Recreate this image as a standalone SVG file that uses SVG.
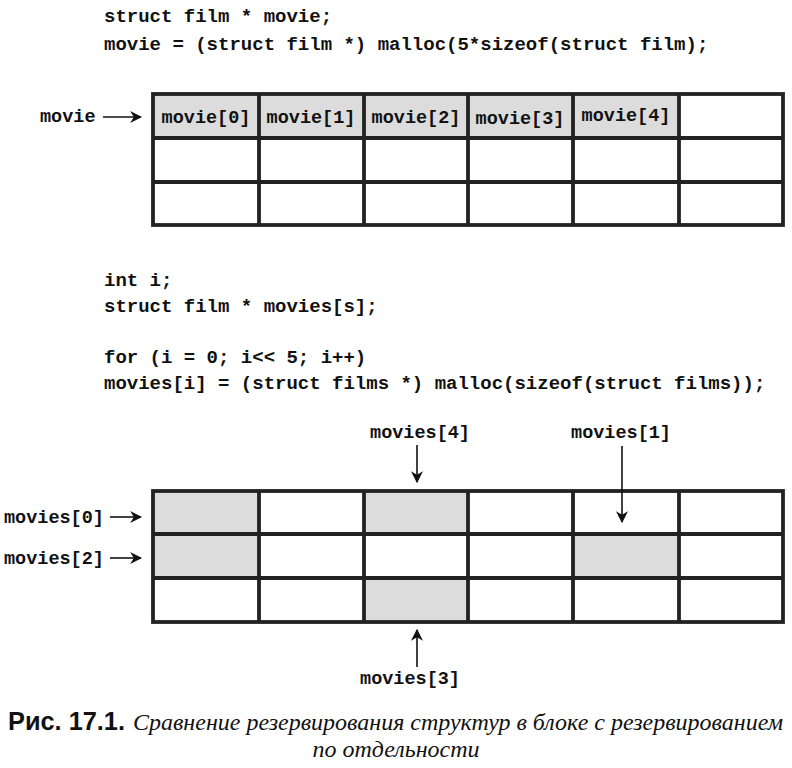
<svg xmlns="http://www.w3.org/2000/svg" width="792" height="768" viewBox="0 0 792 768">
<defs>
<style>
.code{font-family:"Liberation Mono","DejaVu Sans Mono",monospace;font-weight:bold;font-size:19px;fill:#111}
.lbl{font-family:"Liberation Mono","Courier New",monospace;font-weight:bold;font-size:18.5px;fill:#111}
.grid{fill:none;stroke:#222;stroke-width:3.8}
.g{fill:#dcdcdc}
.conn line{stroke:#111;stroke-width:1.6}
.cap1{font-family:"Liberation Sans","Arial",sans-serif;font-weight:bold;font-size:25px;fill:#111}
.cap2{font-family:"Liberation Serif","Times New Roman",serif;font-style:italic;font-size:24px;fill:#111}
</style>
<marker id="ah2" viewBox="0 0 10 10" refX="9" refY="5" markerWidth="12" markerHeight="12" markerUnits="userSpaceOnUse" orient="auto">
<path d="M0,0 L10,5 L0,10 L3,5 Z" fill="#111"/>
</marker>
</defs>
<rect width="792" height="768" fill="#fff"/>

<g id="code1">
<text class="code" x="104" y="22">struct film * movie;</text>
<text class="code" x="104" y="50">movie = (struct film *) malloc(5*sizeof(struct film);</text>
</g>

<g id="grid1">
<rect class="g" x="153" y="94" width="526" height="44"/>
<rect class="grid" x="153" y="94" width="630" height="131"/>
<path class="grid" d="M153,138H783M153,182H783M259,94V225M364,94V225M468,94V225M573,94V225M679,94V225"/>
<text class="lbl" x="206" y="123" text-anchor="middle">movie[0]</text>
<text class="lbl" x="311" y="123" text-anchor="middle">movie[1]</text>
<text class="lbl" x="416" y="123" text-anchor="middle">movie[2]</text>
<text class="lbl" x="520" y="124" text-anchor="middle">movie[3]</text>
<text class="lbl" x="626" y="121" text-anchor="middle">movie[4]</text>
</g>
<g id="label-movie"><text class="lbl" x="40" y="122">movie</text></g>

<g id="code2">
<text class="code" x="104" y="286">int i;</text>
<text class="code" x="104" y="312">struct film * movies[s];</text>
<text class="code" x="104" y="363">for  (i = 0; i&lt;&lt; 5; i++)</text>
<text class="code" x="104" y="389">movies[i] = (struct films *) malloc(sizeof(struct films));</text>
</g>

<g id="grid2">
<rect class="g" x="153" y="491" width="106" height="87"/>
<rect class="g" x="364" y="491" width="104" height="44"/>
<rect class="g" x="364" y="578" width="104" height="44"/>
<rect class="g" x="573" y="534" width="106" height="44"/>
<rect class="grid" x="153" y="491" width="630" height="131"/>
<path class="grid" d="M153,534H783M153,578H783M259,491V622M364,491V622M468,491V622M573,491V622M679,491V622"/>
</g>

<g id="lbl-m0"><text class="lbl" x="4" y="523">movies[0]</text></g>
<g id="lbl-m2"><text class="lbl" x="4" y="564">movies[2]</text></g>
<g id="lbl-m4"><text class="lbl" x="420" y="438" text-anchor="middle">movies[4]</text></g>
<g id="lbl-m1"><text class="lbl" x="621" y="438" text-anchor="middle">movies[1]</text></g>
<g id="lbl-m3"><text class="lbl" x="410" y="684" text-anchor="middle">movies[3]</text></g>

<g class="conn" id="connectors">
<line x1="103" y1="117" x2="141" y2="117" marker-end="url(#ah2)"/>
<line x1="110" y1="517" x2="141" y2="517" marker-end="url(#ah2)"/>
<line x1="110" y1="558" x2="141" y2="558" marker-end="url(#ah2)"/>
<line x1="417" y1="445" x2="417" y2="482" marker-end="url(#ah2)"/>
<line x1="622" y1="446" x2="622" y2="522" marker-end="url(#ah2)"/>
<line x1="417" y1="667" x2="417" y2="630" marker-end="url(#ah2)"/>
</g>

<g id="caption">
<text class="cap1" x="8" y="730" textLength="117" lengthAdjust="spacingAndGlyphs">Рис. 17.1.</text>
<text class="cap2" x="133" y="730" textLength="650" lengthAdjust="spacingAndGlyphs">Сравнение резервирования структур в блоке с резервированием</text>
<text class="cap2" x="396" y="757" text-anchor="middle">по отдельности</text>
</g>
</svg>
